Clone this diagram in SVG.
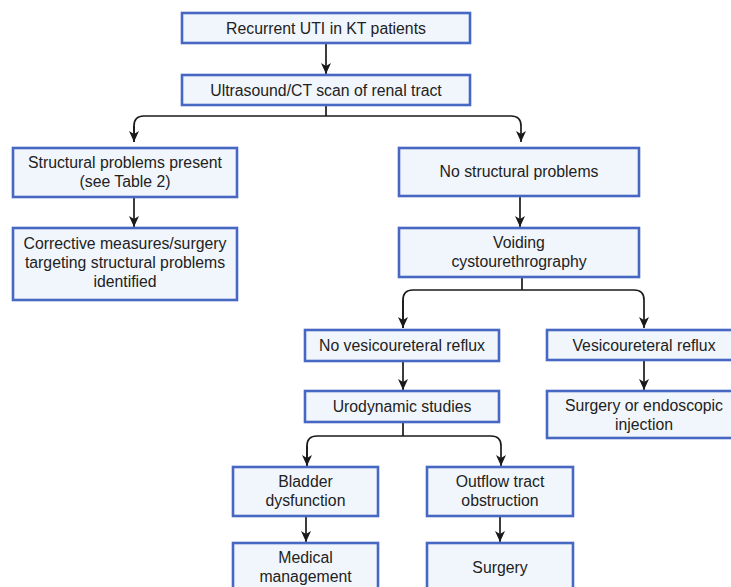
<svg xmlns="http://www.w3.org/2000/svg" width="731" height="587" viewBox="0 0 731 587">
<style>
.box{fill:#f1f6fc;stroke:#4668c2;stroke-width:2.6}
.t{font-family:"Liberation Sans",Arial,sans-serif;font-size:15.8px;fill:#222;text-anchor:middle}
.c{fill:none;stroke:#1a1a1a;stroke-width:1.7}
</style>
<defs>
<marker id="ah" markerUnits="userSpaceOnUse" markerWidth="10" markerHeight="11" viewBox="0 0 10 11" refX="5" refY="11" orient="auto-start-reverse">
<path d="M0,0 L5,3 L10,0 L5,11 Z" fill="#1a1a1a"/>
</marker>
<marker id="dn" markerUnits="userSpaceOnUse" markerWidth="10" markerHeight="11" viewBox="0 0 10 11" refX="5" refY="11" orient="0">
<path d="M0,0 L5,3 L10,0 L5,11 Z" fill="#1a1a1a"/>
</marker>
</defs>
<rect width="731" height="587" fill="#ffffff"/>
<g id="connectors">
<path class="c" d="M326,43 V74" marker-end="url(#dn)"/>
<path class="c" d="M326,105 V116"/>
<path class="c" d="M134,142 V126 Q134,116 144,116 H511 Q521,116 521,126 V142" marker-end="url(#dn)"/>
<path class="c" d="M134,126 V142" marker-end="url(#dn)"/>
<path class="c" d="M134,197 V227" marker-end="url(#dn)"/>
<path class="c" d="M520,196 V227" marker-end="url(#dn)"/>
<path class="c" d="M522,277 V290"/>
<path class="c" d="M403,328 V300 Q403,290 413,290 H634 Q644,290 644,300 V328" marker-end="url(#dn)"/>
<path class="c" d="M403,300 V328" marker-end="url(#dn)"/>
<path class="c" d="M403,361 V390" marker-end="url(#dn)"/>
<path class="c" d="M644,360 V390" marker-end="url(#dn)"/>
<path class="c" d="M403,422 V436"/>
<path class="c" d="M307,466 V446 Q307,436 317,436 H491 Q501,436 501,446 V466" marker-end="url(#dn)"/>
<path class="c" d="M307,446 V466" marker-end="url(#dn)"/>
<path class="c" d="M306,516 V542" marker-end="url(#dn)"/>
<path class="c" d="M500,516 V542" marker-end="url(#dn)"/>
</g>
<g id="n1"><rect class="box" x="182" y="13" width="288" height="30"/><text class="t" x="326" y="34">Recurrent UTI in KT patients</text></g>
<g id="n2"><rect class="box" x="182" y="75" width="288" height="30"/><text class="t" x="326" y="96">Ultrasound/CT scan of renal tract</text></g>
<g id="n3"><rect class="box" x="13" y="148" width="224" height="49"/><text class="t" x="125" y="168">Structural problems present</text><text class="t" x="125" y="187">(see Table 2)</text></g>
<g id="n4"><rect class="box" x="13" y="228" width="224" height="72"/><text class="t" x="125" y="249">Corrective measures/surgery</text><text class="t" x="125" y="268">targeting structural problems</text><text class="t" x="125" y="287">identified</text></g>
<g id="n5"><rect class="box" x="399" y="148" width="240" height="48"/><text class="t" x="519" y="177">No structural problems</text></g>
<g id="n6"><rect class="box" x="399" y="228" width="240" height="49"/><text class="t" x="519" y="248">Voiding</text><text class="t" x="519" y="267">cystourethrography</text></g>
<g id="n7"><rect class="box" x="305" y="330" width="194" height="31"/><text class="t" x="402" y="351">No vesicoureteral reflux</text></g>
<g id="n8"><rect class="box" x="547" y="330" width="196" height="30"/><text class="t" x="644" y="351">Vesicoureteral reflux</text></g>
<g id="n9"><rect class="box" x="305" y="391" width="194" height="31"/><text class="t" x="402" y="412">Urodynamic studies</text></g>
<g id="n10"><rect class="box" x="547" y="391" width="196" height="47"/><text class="t" x="644" y="411">Surgery or endoscopic</text><text class="t" x="644" y="430">injection</text></g>
<g id="n11"><rect class="box" x="233" y="467" width="145" height="49"/><text class="t" x="305.5" y="487">Bladder</text><text class="t" x="305.5" y="506">dysfunction</text></g>
<g id="n12"><rect class="box" x="427" y="467" width="146" height="49"/><text class="t" x="500" y="487">Outflow tract</text><text class="t" x="500" y="506">obstruction</text></g>
<g id="n13"><rect class="box" x="233" y="543" width="145" height="50"/><text class="t" x="305.5" y="563">Medical</text><text class="t" x="305.5" y="582">management</text></g>
<g id="n14"><rect class="box" x="427" y="543" width="146" height="50"/><text class="t" x="500" y="573">Surgery</text></g>
</svg>
